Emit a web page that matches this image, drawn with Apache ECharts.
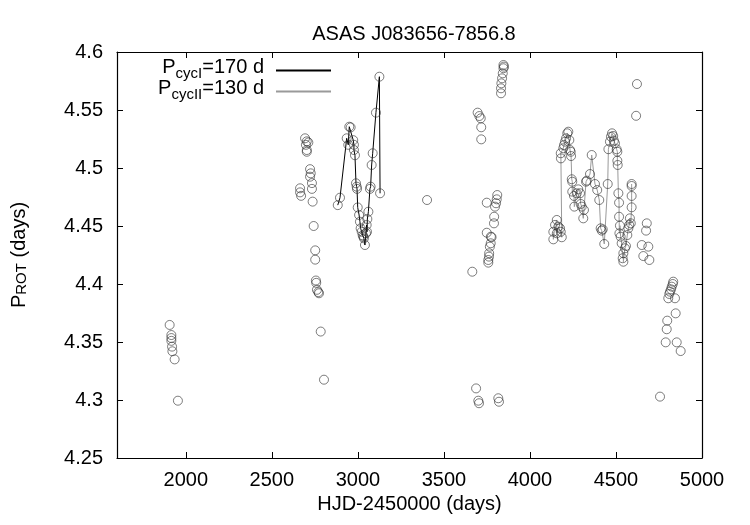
<!DOCTYPE html>
<html>
<head>
<meta charset="utf-8">
<script src="https://cdn.jsdelivr.net/npm/echarts@6/dist/echarts.min.js"></script>
<style>
  html, body { margin: 0; padding: 0; background: #fff; }
  #chart { width: 750px; height: 525px; }
</style>
</head>
<body>
<div id="chart"></div>
<script>
// ticks on x axis (axis starts at 1600, so ticks are listed by hand)
var xTicks = [2000, 2500, 3000, 3500, 4000, 4500, 5000];

// points joined by the black line (cycle I, 170 d)
var cycIX = [2883, 2896, 2935, 2944, 2950, 2958, 2973, 2977, 2977, 2983, 2989, 2993, 2995, 2999, 3007, 3012,
             3016, 3022, 3028, 3032, 3035, 3041, 3047, 3051, 3053, 3055, 3061, 3070, 3074, 3080, 3086, 3105, 3125, 3129];
var cycIY = [4.468, 4.4744, 4.5256, 4.520, 4.5356, 4.535, 4.524, 4.520, 4.5155, 4.511, 4.4868, 4.4839, 4.482, 4.466, 4.4595, 4.4537,
             4.448, 4.445, 4.442, 4.4408, 4.4394, 4.4336, 4.4437, 4.4509, 4.445, 4.456, 4.4623, 4.482, 4.4839, 4.5026, 4.5127, 4.5477, 4.5787, 4.4782];

// points joined by the grey line (cycle II, 130 d)
var cycIIX = [4136, 4136, 4146, 4156, 4156, 4165, 4175, 4179, 4185, 4180, 4179, 4194, 4198, 4204, 4210, 4217,
              4223, 4229, 4233, 4237, 4239, 4243, 4246, 4246, 4256, 4258, 4272, 4281, 4291, 4295, 4301, 4310,
              4314, 4326, 4330, 4349, 4359, 4378, 4391, 4403, 4411, 4417, 4423, 4432, 4452, 4456, 4465, 4471,
              4477, 4484, 4488, 4494, 4504, 4508, 4508, 4510, 4514, 4518, 4518, 4520, 4523, 4527, 4533, 4539,
              4543, 4543, 4552, 4558, 4566, 4572, 4577, 4581, 4586, 4591, 4591, 4591, 4591];
var cycIIY = [4.445, 4.4385, 4.4509, 4.4552, 4.4437, 4.4494, 4.448, 4.445, 4.4403, 4.5083, 4.5127, 4.517, 4.5198, 4.5227, 4.5256, 4.5299,
              4.5313, 4.5241, 4.5155, 4.514, 4.5103, 4.4903, 4.4882, 4.4796, 4.4759, 4.4667, 4.4782, 4.4816, 4.4782, 4.469, 4.4667, 4.4566,
              4.4638, 4.4882, 4.4891, 4.4948, 4.5112, 4.4862, 4.481, 4.4724, 4.448, 4.446, 4.4471, 4.4345, 4.4862, 4.5162, 4.5227, 4.527,
              4.5299, 4.5276, 4.5236, 4.5213, 4.5161, 4.514, 4.5063, 4.5026, 4.4782, 4.4701, 4.458, 4.4437, 4.4503, 4.4408, 4.4351, 4.4222,
              4.4265, 4.4192, 4.4308, 4.4328, 4.4422, 4.448, 4.4509, 4.4566, 4.4523, 4.4661, 4.4759, 4.4845, 4.4862];

// remaining observations (not on a line)
var otherX = [1906, 1916, 1916, 1916, 1920, 1922, 1935, 1954,
              2664, 2664, 2670, 2693, 2703, 2712, 2698, 2703, 2703, 2722, 2726, 2722, 2733, 2733, 2737, 2743,
              2752, 2752, 2756, 2758, 2762, 2770, 2774, 2784, 2803,
              3402,
              3665, 3687, 3700, 3704, 3816, 3820,
              3696, 3706, 3714, 3717, 3717,
              3749, 3749, 3758, 3758, 3762, 3763, 3767, 3772, 3773, 3777, 3791, 3792, 3797, 3803, 3807, 3810,
              3832, 3832, 3834, 3838, 3842, 3846, 3849, 3846,
              4617, 4622, 4650, 4659, 4675, 4679, 4688, 4694,
              4756, 4789, 4795, 4798, 4804, 4810, 4814, 4820, 4824, 4830, 4833, 4843, 4847, 4853, 4876];
var otherY = [4.3647, 4.356, 4.3534, 4.351, 4.346, 4.342, 4.335, 4.2994,
              4.4825, 4.479, 4.476, 4.5256, 4.523, 4.522, 4.520, 4.5155, 4.514, 4.499, 4.4954, 4.4925, 4.487, 4.482, 4.471, 4.45,
              4.429, 4.421, 4.403, 4.401, 4.395, 4.393, 4.392, 4.359, 4.3175,
              4.4724,
              4.4106, 4.31, 4.2994, 4.2972, 4.3015, 4.2985,
              4.5477, 4.5448, 4.5428, 4.5351, 4.5247,
              4.4701, 4.4442, 4.4207, 4.4184, 4.4236, 4.4265, 4.4322, 4.4351, 4.4408, 4.4403, 4.4523, 4.458, 4.4667, 4.4696, 4.473, 4.4767,
              4.5644, 4.5687, 4.573, 4.5773, 4.5816, 4.586, 4.5874, 4.5888,
              4.545, 4.5724, 4.4336, 4.4241, 4.446, 4.4523, 4.4322, 4.4207,
              4.3029, 4.3497, 4.361, 4.3684, 4.3877, 4.3914, 4.3934, 4.3954, 4.3977, 4.4, 4.402, 4.3877, 4.3747, 4.3497, 4.3422];

function pairs(xs, ys) {
  var out = [];
  for (var i = 0; i < xs.length; i++) out.push([xs[i], ys[i]]);
  return out;
}

var cycI = pairs(cycIX, cycIY);
var cycII = pairs(cycIIX, cycIIY);
var allPts = pairs(otherX, otherY).concat(cycI, cycII);

var FONT = 'Liberation Sans';
var rich = {
  p: { fontSize: 20, fontFamily: FONT, color: '#000', lineHeight: 22, padding: [0, 0, 7, 0] },
  s: { fontSize: 15, fontFamily: FONT, color: '#000', lineHeight: 17, verticalAlign: 'bottom' },
  g: { width: 7 }
};

function legendFor(name, top) {
  return {
    data: [name],
    right: 418,
    top: top,
    padding: 0,
    orient: 'vertical',
    align: 'right',
    itemWidth: 55,
    itemHeight: 12,
    selectedMode: false,
    itemStyle: { opacity: 0 },
    formatter: function (n) {
      return n === 'cycI' ? '{p|P}{s|cycI}{p|=170 d}{g|}' : '{p|P}{s|cycII}{p|=130 d}{g|}';
    },
    textStyle: { rich: rich }
  };
}

var chart = echarts.init(document.getElementById('chart'));
var option = {
  animation: false,
  backgroundColor: '#fff',
  title: {
    text: 'ASAS J083656-7856.8',
    left: 409,
    textAlign: 'center',
    top: 19,
    textStyle: { fontSize: 20, fontWeight: 'normal', fontFamily: FONT, color: '#000' }
  },
  legend: [legendFor('cycI', 57), legendFor('cycII', 78)],
  grid: { left: 117, right: 48, top: 52, bottom: 67 },
  xAxis: [{
    type: 'value', min: 1600, max: 5000,
    name: 'HJD-2450000 (days)', nameLocation: 'middle', nameGap: 36,
    nameTextStyle: { fontSize: 20, fontFamily: FONT, color: '#000' },
    axisLine: { onZero: false, lineStyle: { color: '#000', width: 1.2 } },
    axisTick: { inside: true, length: 6, customValues: xTicks, lineStyle: { color: '#000' } },
    axisLabel: {
      customValues: xTicks, fontSize: 20, fontFamily: FONT, color: '#000', margin: 12,
      formatter: function (v) { return String(v); }
    },
    splitLine: { show: false }
  }, {
    type: 'value', min: 1600, max: 5000, position: 'top',
    axisLine: { onZero: false, lineStyle: { color: '#000', width: 1.2 } },
    axisTick: { inside: true, length: 6, customValues: xTicks, lineStyle: { color: '#000' } },
    axisLabel: { show: false },
    splitLine: { show: false }
  }],
  yAxis: [{
    type: 'value', min: 4.25, max: 4.6, interval: 0.05,
    name: 'P{s|ROT} (days)', nameLocation: 'middle', nameGap: 88, nameRotate: 90,
    nameTextStyle: { fontSize: 20, fontFamily: FONT, color: '#000', rich: rich },
    axisLine: { onZero: false, lineStyle: { color: '#000', width: 1.2 } },
    axisTick: { inside: true, length: 6, lineStyle: { color: '#000' } },
    axisLabel: {
      fontSize: 20, fontFamily: FONT, color: '#000', margin: 14,
      formatter: function (v) { return String(+v.toFixed(2)); }
    },
    splitLine: { show: false }
  }, {
    type: 'value', min: 4.25, max: 4.6, interval: 0.05, position: 'right',
    axisLine: { onZero: false, lineStyle: { color: '#000', width: 1.2 } },
    axisTick: { inside: true, length: 6, lineStyle: { color: '#000' } },
    axisLabel: { show: false },
    splitLine: { show: false }
  }],
  series: [{
    name: 'cycI',
    type: 'line',
    data: cycI,
    symbol: 'none',
    lineStyle: { color: '#000', width: 1 },
    itemStyle: { color: '#000' },
    z: 2
  }, {
    name: 'cycII',
    type: 'line',
    data: cycII,
    symbol: 'none',
    lineStyle: { color: '#9a9a9a', width: 1 },
    itemStyle: { color: '#9a9a9a' },
    z: 2
  }, {
    name: 'obs',
    type: 'scatter',
    data: allPts,
    symbol: 'circle',
    symbolSize: 9,
    itemStyle: { color: 'rgba(255,255,255,0)', borderColor: '#333', borderWidth: 0.8 },
    z: 3
  }]
};
chart.setOption(option);
</script>
</body>
</html>
